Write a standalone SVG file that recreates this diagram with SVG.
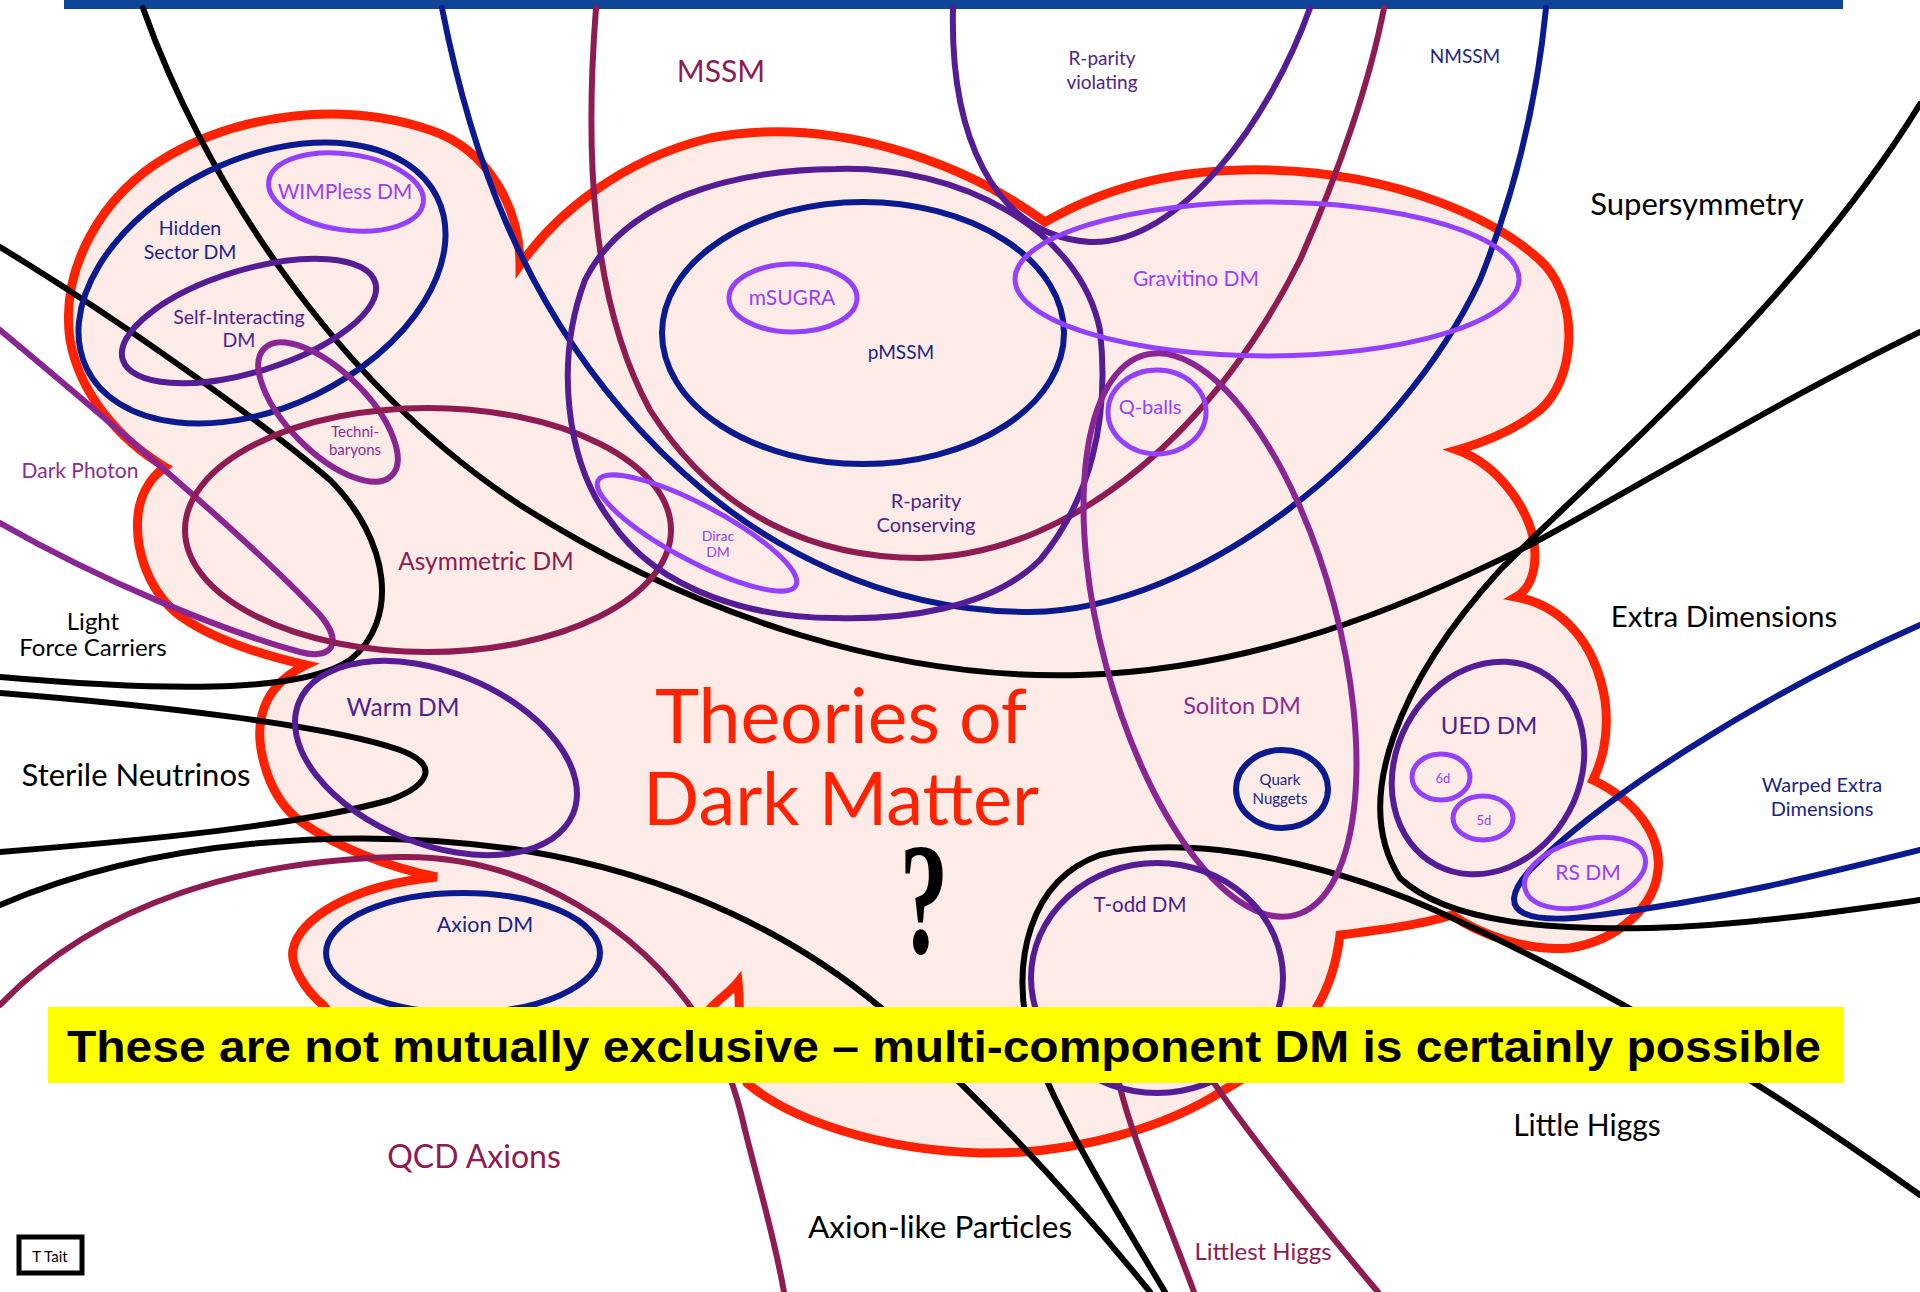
<svg xmlns="http://www.w3.org/2000/svg" width="1920" height="1292" viewBox="0 0 1920 1292">
<style>
.ln{fill:none;stroke-width:6;stroke-linecap:round}
.bk{stroke:#000}
.bl{stroke:#0B1A8E}
.mr{stroke:#8E1B52}
.pu{stroke:#541C95}
.mg{stroke:#8A2594}
.br{stroke:#9640FF;stroke-width:5}
.t{font-family:Lato,"Liberation Sans",sans-serif;text-anchor:middle}
.tbk{fill:#000}
.tbl{fill:#1A2488}
.tmr{fill:#8E1B52}
.tpu{fill:#4F2190}
.tmg{fill:#8A2D96}
.tbr{fill:#9640FF}
</style>
<rect x="0" y="0" width="1920" height="1292" fill="#fff"/>
<rect x="64" y="0" width="1779" height="9" fill="#0E4598"/>

<g id="dark-matter-cloud">
<path d="M520,265 C555,215 620,160 710,138 C830,115 960,160 1045,222 C1110,185 1180,168 1270,170 C1400,174 1500,220 1545,265 C1580,305 1575,380 1540,410 C1515,430 1485,442 1457,450 C1500,465 1535,515 1535,555 C1535,575 1528,590 1516,597 C1560,605 1595,640 1605,700 C1610,740 1600,765 1593,780 C1635,800 1662,835 1658,870 C1655,905 1620,940 1570,948 C1530,952 1480,935 1452,915 C1420,925 1380,930 1340,935 C1337,960 1330,985 1317,1007 C1300,1040 1260,1070 1224,1090 C1170,1125 1080,1155 980,1153 C880,1150 790,1120 747,1083 C735,1060 742,1020 738,982 C730,992 718,1000 711,1008 C680,1050 560,1075 480,1070 C400,1065 345,1035 323,1005 C305,990 290,965 293,950 C298,920 350,885 437,877 C390,868 330,845 295,817 C265,790 255,740 262,715 C268,690 285,675 306,665 C270,657 210,640 175,612 C145,585 135,545 138,515 C140,495 150,478 165,467 C120,440 80,395 70,340 C60,270 100,195 170,155 C240,115 340,100 430,130 C490,150 520,210 520,265 Z" fill="#FDEBE7" stroke="#FF2200" stroke-width="9" stroke-linejoin="miter"/>
</g>

<g id="connectors">
<path class="ln bk" d="M143,8 C200,170 330,380 520,505 C700,620 900,680 1080,675 C1250,670 1400,610 1530,545 C1650,480 1780,400 1920,332"/>
<path class="ln bk" d="M1920,104 C1800,300 1600,470 1500,570 C1400,680 1350,800 1400,878 C1450,925 1560,930 1650,928 C1750,925 1850,910 1920,900"/>
<path class="ln bk" d="M0,247 C120,320 260,420 330,480 C390,540 400,620 350,660 C300,695 150,690 0,677"/>
<path class="ln bk" d="M0,693 C150,705 330,725 400,750 C440,765 430,785 390,800 C300,825 150,840 0,852"/>
<path class="ln bk" d="M0,905 C150,840 350,825 520,850 C680,875 800,940 880,1007 C960,1080 1060,1180 1150,1292"/>
<path class="ln bk" d="M1165,1292 C1110,1200 1060,1120 1030,1040 C1010,960 1030,880 1100,855 C1200,830 1350,870 1450,917 C1600,985 1760,1080 1920,1195"/>
<path class="ln bl" d="M442,8 C470,150 520,300 640,430 C760,560 900,612 1030,612 C1200,610 1400,450 1480,280 C1520,180 1538,90 1546,8"/>
<path class="ln bl" d="M1920,625 C1750,700 1600,800 1530,870 C1490,915 1530,925 1600,915 C1720,900 1820,875 1920,850"/>
<path class="ln mr" d="M596,8 C585,150 590,300 650,410 C720,520 820,558 920,558 C1080,555 1220,420 1300,260 C1340,170 1370,80 1384,8"/>
<path class="ln mr" d="M0,1005 C100,900 250,860 400,857 C530,855 640,930 700,1020 C725,1060 735,1085 745,1130 C760,1190 775,1240 784,1292"/>
<path class="ln mr" d="M1194,1292 C1160,1200 1120,1110 1115,1060 C1110,1020 1180,1020 1200,1060 C1215,1090 1300,1200 1378,1292"/>
<path class="ln pu" d="M953,8 C950,130 990,235 1090,242 C1180,245 1270,120 1310,8"/>
<path class="ln mg" d="M0,330 C120,430 260,550 320,615 C345,645 330,660 300,652 C220,630 100,580 0,523"/>
</g>

<g id="hidden-sector">
<ellipse class="ln bl" cx="262" cy="283" rx="195" ry="124" transform="rotate(-26 262 283)"/>
<text class="t tbl" font-size="19.5"><tspan x="190" y="235">Hidden</tspan><tspan x="190" y="259">Sector DM</tspan></text>
</g>
<g id="wimpless">
<ellipse class="ln br" cx="346" cy="192" rx="78" ry="38" transform="rotate(8 346 192)"/>
<text class="t tbr" x="345" y="199" font-size="21">WIMPless DM</text>
</g>
<g id="self-interacting">
<ellipse class="ln pu" cx="249" cy="321" rx="132" ry="51" transform="rotate(-17 249 321)"/>
<text class="t tpu" font-size="19.5"><tspan x="239" y="324">Self-Interacting</tspan><tspan x="239" y="347">DM</tspan></text>
</g>
<g id="techni-baryons">
<ellipse class="ln mg" cx="328" cy="412" rx="90" ry="40" transform="rotate(45 328 412)"/>
<text class="t tmg" font-size="15"><tspan x="355" y="437">Techni-</tspan><tspan x="355" y="455">baryons</tspan></text>
</g>
<g id="asymmetric">
<ellipse class="ln mr" cx="428" cy="530" rx="243" ry="122"/>
<text class="t tmr" x="486" y="570" font-size="24.5">Asymmetric DM</text>
</g>
<g id="r-parity-conserving">
<path class="ln pu" d="M836,169 C960,165 1080,230 1100,330 C1110,420 1090,500 1040,560 C990,610 900,620 835,618 C760,618 660,595 610,520 C565,460 555,360 585,280 C625,200 730,170 836,169 Z"/>
<text class="t tpu" font-size="20"><tspan x="926" y="508">R-parity</tspan><tspan x="926" y="532">Conserving</tspan></text>
</g>
<g id="pmssm">
<ellipse class="ln bl" cx="863" cy="333" rx="201" ry="131"/>
<text class="t tbl" x="901" y="359" font-size="19">pMSSM</text>
</g>
<g id="msugra">
<ellipse class="ln br" cx="793" cy="298" rx="64" ry="34"/>
<text class="t tbr" x="792" y="305" font-size="21">mSUGRA</text>
</g>
<g id="dirac">
<ellipse class="ln br" cx="697" cy="533" rx="112" ry="28" transform="rotate(28 697 533)"/>
<text class="t tbr" font-size="14"><tspan x="718" y="541">Dirac</tspan><tspan x="718" y="557">DM</tspan></text>
</g>
<g id="gravitino">
<ellipse class="ln br" cx="1267" cy="279" rx="252" ry="77"/>
<text class="t tbr" x="1196" y="286" font-size="21">Gravitino DM</text>
</g>
<g id="q-balls">
<ellipse class="ln br" cx="1157" cy="412" rx="49" ry="42"/>
<text class="t tbr" x="1150" y="414" font-size="20">Q-balls</text>
</g>
<g id="soliton">
<ellipse class="ln mg" cx="1220" cy="635" rx="290" ry="118" transform="rotate(75 1220 635)"/>
<text class="t tmg" x="1242" y="714" font-size="23.5">Soliton DM</text>
</g>
<g id="quark-nuggets">
<ellipse class="ln bl" cx="1282" cy="789" rx="46" ry="39"/>
<text class="t tbl" font-size="15"><tspan x="1280" y="785">Quark</tspan><tspan x="1280" y="804">Nuggets</tspan></text>
</g>
<g id="ued">
<ellipse class="ln pu" cx="1488" cy="768" rx="110" ry="92" transform="rotate(-62 1488 768)"/>
<text class="t tpu" x="1489" y="734" font-size="24">UED DM</text>
</g>
<g id="d6">
<ellipse class="ln br" cx="1441" cy="777" rx="29" ry="23"/>
<text class="t tbr" x="1443" y="783" font-size="13">6d</text>
</g>
<g id="d5">
<ellipse class="ln br" cx="1483" cy="818" rx="30" ry="22"/>
<text class="t tbr" x="1484" y="825" font-size="13">5d</text>
</g>
<g id="rs-dm">
<ellipse class="ln br" cx="1585" cy="873" rx="62" ry="33" transform="rotate(-15 1585 873)"/>
<text class="t tbr" x="1588" y="880" font-size="21">RS DM</text>
</g>
<g id="warm">
<ellipse class="ln pu" cx="436" cy="758" rx="148" ry="86" transform="rotate(22 436 758)"/>
<text class="t tpu" x="403" y="716" font-size="24.5">Warm DM</text>
</g>
<g id="axion-dm">
<ellipse class="ln bl" cx="463" cy="953" rx="137" ry="60"/>
<text class="t tbl" x="485" y="932" font-size="21.5">Axion DM</text>
</g>
<g id="t-odd">
<ellipse class="ln pu" cx="1157" cy="978" rx="126" ry="115"/>
<text class="t tpu" x="1140" y="912" font-size="20.5">T-odd DM</text>
</g>

<g id="region-labels">
<text class="t tmr" x="721" y="82" font-size="30">MSSM</text>
<text class="t tpu" font-size="19"><tspan x="1102" y="65">R-parity</tspan><tspan x="1102" y="89">violating</tspan></text>
<text class="t tbl" x="1465" y="63" font-size="19">NMSSM</text>
<text class="t tbk" x="1697" y="215" font-size="31">Supersymmetry</text>
<text class="t tmg" x="80" y="478" font-size="21">Dark Photon</text>
<text class="t tbk" font-size="24"><tspan x="93" y="630">Light</tspan><tspan x="93" y="656">Force Carriers</tspan></text>
<text class="t tbk" x="136" y="786" font-size="31">Sterile Neutrinos</text>
<text class="t tbk" x="1724" y="627" font-size="29.5">Extra Dimensions</text>
<text class="t tbl" font-size="20"><tspan x="1822" y="792">Warped Extra</tspan><tspan x="1822" y="816">Dimensions</tspan></text>
<text class="t tbk" x="1587" y="1136" font-size="30">Little Higgs</text>
<text class="t tmr" x="474" y="1168" font-size="32">QCD Axions</text>
<text class="t tbk" x="940" y="1238" font-size="31.5">Axion-like Particles</text>
<text class="t tmr" x="1263" y="1260" font-size="24">Littlest Higgs</text>
</g>

<g id="title">
<text class="t" x="841" y="743" font-size="75" fill="#FF2200">Theories of</text>
<text class="t" x="841" y="825" font-size="74" fill="#FF2200">Dark Matter</text>
<text x="0" y="0" font-family="'Liberation Serif',serif" font-weight="bold" font-size="158" text-anchor="middle" fill="#000" transform="translate(924,953) scale(0.62,1)">?</text>
</g>

<g id="banner">
<rect x="48" y="1007" width="1796" height="76" fill="#FFFF00"/>
<text x="944" y="1062" font-family="'Liberation Sans',Arial,sans-serif" font-weight="bold" font-size="45" text-anchor="middle" fill="#000" textLength="1754" lengthAdjust="spacingAndGlyphs">These are not mutually exclusive – multi-component DM is certainly possible</text>
</g>

<g id="credit">
<rect x="19" y="1237" width="63" height="36" fill="#fff" stroke="#000" stroke-width="5"/>
<text class="t tbk" x="50" y="1262" font-size="15">T Tait</text>
</g>
</svg>
